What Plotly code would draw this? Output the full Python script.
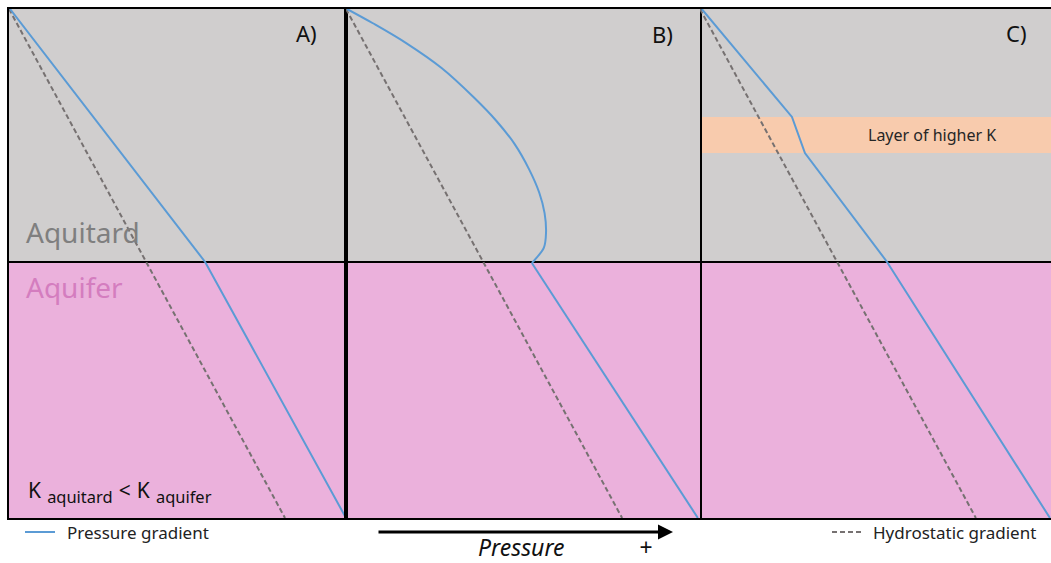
import plotly.graph_objects as go

# ---------------- data (depth 0 = top, 100 = bottom; pressure 0..100 per panel) ----
BOUNDARY_DEPTH = 49.7
LAYER_TOP, LAYER_BOTTOM = 21.2, 28.3

hydro_depth = [0, 100]
hydro_A = [0, 81.9]
hydro_B = [0, 78.0]
hydro_C = [0, 78.6]

press_A_depth = [0, 49.7, 100]
press_A = [0.3, 58.2, 100]

press_B_curve_depth = [0, 2.8, 6.7, 11.6, 17.3, 22.0, 26.5, 31.6, 36.1, 40.1, 44.0, 46.9, 48.9, 49.9]
press_B_curve = [0.3, 7.6, 17.0, 27.0, 36.0, 42.5, 47.6, 51.8, 54.6, 56.1, 56.5, 55.9, 53.8, 52.5]
press_B_lin_depth = [49.9, 100]
press_B_lin = [52.5, 99.4]

press_C_depth = [0, 21.2, 28.3, 49.7, 100]
press_C = [0.5, 26.2, 29.9, 53.3, 99.7]

panel_labels = ["A)", "B)", "C)"]

# ---------------- styling -----------------------------------------------------
W, H = 1051, 563
FONT = "Noto Sans"
GRAY = "#D0CECE"
PINK = "#EBB1DC"
PEACH = "#F8CBAD"
BLUE = "#5B9BD5"
DASH = "#767171"

def px(xp):
    return xp / W

def py(yp):
    return 1 - yp / H

x_domains = [[px(9), px(346)], [px(346), px(700)], [px(700), 1.0]]
y_domain = [py(518), py(9)]

fig = go.Figure()

axis_common = dict(showgrid=False, zeroline=False, showticklabels=False, ticks="",
                   mirror=True, linecolor="black", linewidth=2)

for i in range(3):
    sfx = "" if i == 0 else str(i + 1)
    fig.update_layout(**{
        f"xaxis{sfx}": dict(domain=x_domains[i], range=[0, 100], anchor=f"y{sfx}", showline=True,
                            **axis_common),
        f"yaxis{sfx}": dict(domain=y_domain, range=[100, 0], anchor=f"x{sfx}", showline=(i < 2),
                            **axis_common),
    })

shapes = []
for i in range(3):
    sfx = "" if i == 0 else str(i + 1)
    xr, yr = f"x{sfx} domain", f"y{sfx}"
    shapes.append(dict(type="rect", xref=xr, yref=yr, x0=0, x1=1, y0=0, y1=BOUNDARY_DEPTH,
                       fillcolor=GRAY, line=dict(width=0), layer="below"))
    shapes.append(dict(type="rect", xref=xr, yref=yr, x0=0, x1=1, y0=BOUNDARY_DEPTH, y1=100,
                       fillcolor=PINK, line=dict(width=0), layer="below"))
    shapes.append(dict(type="line", xref=xr, yref=yr, x0=0, x1=1, y0=BOUNDARY_DEPTH, y1=BOUNDARY_DEPTH,
                       line=dict(color="black", width=2), layer="below"))
# layer of higher K in panel C
shapes.append(dict(type="rect", xref="x3 domain", yref="y3", x0=0, x1=1, y0=LAYER_TOP, y1=LAYER_BOTTOM,
                   fillcolor=PEACH, line=dict(width=0), layer="below"))

# legend swatches
shapes.append(dict(type="line", xref="paper", yref="paper", x0=px(25), x1=px(55), y0=py(532), y1=py(532),
                   line=dict(color=BLUE, width=2)))
shapes.append(dict(type="line", xref="paper", yref="paper", x0=px(832), x1=px(863), y0=py(532), y1=py(532),
                   line=dict(color=DASH, width=2, dash="5px,3px")))

fig.update_layout(shapes=shapes)

dash_line = dict(color=DASH, width=2, dash="5px,3px")
blue_line = dict(color=BLUE, width=2)

fig.add_trace(go.Scatter(x=hydro_A, y=hydro_depth, mode="lines", line=dash_line, xaxis="x", yaxis="y"))
fig.add_trace(go.Scatter(x=press_A, y=press_A_depth, mode="lines", line=blue_line, xaxis="x", yaxis="y"))

fig.add_trace(go.Scatter(x=hydro_B, y=hydro_depth, mode="lines", line=dash_line, xaxis="x2", yaxis="y2"))
fig.add_trace(go.Scatter(x=press_B_curve, y=press_B_curve_depth, mode="lines",
                         line=dict(color=BLUE, width=2, shape="spline", smoothing=1.0), xaxis="x2", yaxis="y2"))
fig.add_trace(go.Scatter(x=press_B_lin, y=press_B_lin_depth, mode="lines", line=blue_line, xaxis="x2", yaxis="y2"))

fig.add_trace(go.Scatter(x=hydro_C, y=hydro_depth, mode="lines", line=dash_line, xaxis="x3", yaxis="y3"))
fig.add_trace(go.Scatter(x=press_C, y=press_C_depth, mode="lines", line=blue_line, xaxis="x3", yaxis="y3"))

ann = []
label_pos = [(306, 33), (662, 34), (1016, 33)]
for lab, (lx, ly) in zip(panel_labels, label_pos):
    ann.append(dict(text=lab, x=px(lx), y=py(ly), xref="paper", yref="paper", showarrow=False,
                    xanchor="center", yanchor="middle", font=dict(family=FONT, size=22, color="#111111")))

ann.append(dict(text="Aquitard", x=px(24), y=py(232), xref="paper", yref="paper", showarrow=False,
                xanchor="left", yanchor="middle", font=dict(family=FONT, size=28, color="#7F7F7F")))
ann.append(dict(text="Aquifer", x=px(24), y=py(287), xref="paper", yref="paper", showarrow=False,
                xanchor="left", yanchor="middle", font=dict(family=FONT, size=28, color="#D47DBF")))
K_SPAN = '<span style="font-size:21px">K</span>'
ann.append(dict(text=(K_SPAN + ' <sub>aquitard</sub> <span style="font-size:21px">&lt;</span> '
                      + K_SPAN + ' <sub>aquifer</sub>'),
                x=px(26), y=py(490), xref="paper",
                yref="paper", showarrow=False, xanchor="left", yanchor="middle",
                font=dict(family=FONT, size=23.5, color="#111111")))
ann.append(dict(text="Layer of higher K", x=px(932), y=py(135), xref="paper", yref="paper", showarrow=False,
                xanchor="center", yanchor="middle", font=dict(family=FONT, size=16, color="#262626")))

ann.append(dict(text="Pressure gradient", x=px(65), y=py(532), xref="paper", yref="paper", showarrow=False,
                xanchor="left", yanchor="middle", font=dict(family=FONT, size=17, color="#222222")))
ann.append(dict(text="Hydrostatic gradient", x=px(871), y=py(532), xref="paper", yref="paper", showarrow=False,
                xanchor="left", yanchor="middle", font=dict(family=FONT, size=17, color="#222222")))

# pressure arrow
ann.append(dict(text="", x=px(673), y=py(532), xref="paper", yref="paper", showarrow=True,
                ax=-(673 - 377), ay=0, arrowhead=2, arrowsize=1, arrowwidth=3, arrowcolor="black",
                standoff=0))
ann.append(dict(text="<i>Pressure</i>", x=px(521), y=py(547), xref="paper", yref="paper", showarrow=False,
                xanchor="center", yanchor="middle", font=dict(family=FONT, size=23, color="#111111")))
ann.append(dict(text="<i>+</i>", x=px(645), y=py(547), xref="paper", yref="paper", showarrow=False,
                xanchor="center", yanchor="middle", font=dict(family=FONT, size=23, color="#111111")))

fig.update_layout(annotations=ann, width=W, height=H, margin=dict(l=0, r=0, t=0, b=0),
                  paper_bgcolor="white", plot_bgcolor="white", showlegend=False)

fig.write_html("out.html", config={"displayModeBar": False},
               post_script="document.body.style.margin='0';document.body.style.overflow='hidden';")
